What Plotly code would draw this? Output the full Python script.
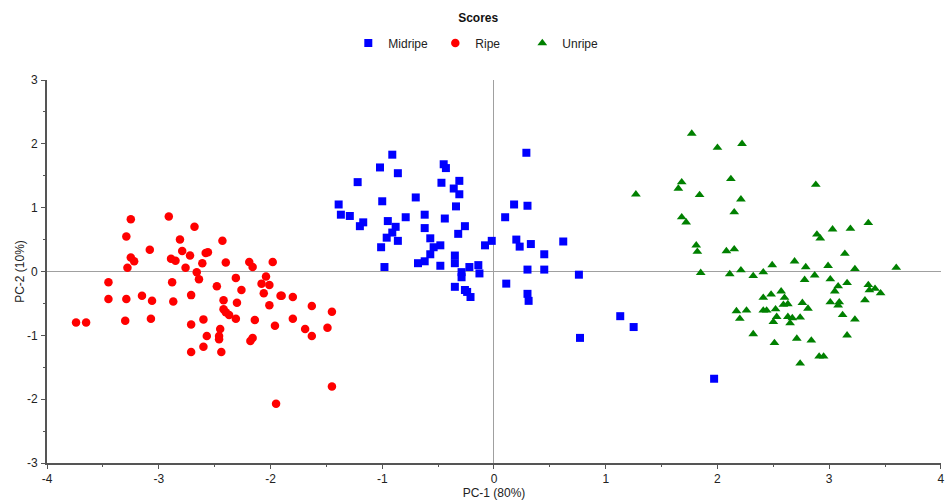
import plotly.graph_objects as go

# Ripe (red circles)
ripe_x = [-3.74, -3.65, -3.45, -3.45, -3.29, -3.25, -3.28, -3.25, -3.22, -3.29, -3.30, -3.15, -3.08, -3.06, -3.07,
          -2.91, -2.89, -2.85, -2.88, -2.87, -2.81, -2.79, -2.72, -2.68, -2.76, -2.66, -2.64, -2.71, -2.71, -2.71,
          -2.61, -2.58, -2.56, -2.60, -2.60, -2.57, -2.43, -2.40, -2.48, -2.42, -2.42, -2.40, -2.37, -2.45, -2.46,
          -2.46, -2.44, -2.31, -2.26, -2.30, -2.31, -2.19, -2.16, -2.16, -2.18, -2.14, -2.04, -2.08, -2.01, -2.06,
          -2.01, -1.98, -1.96, -1.95, -1.91, -1.90, -1.80, -1.80, -1.69, -1.63, -1.63, -1.49, -1.45, -1.45]
ripe_y = [-0.80, -0.80, -0.17, -0.43, 0.55, 0.82, 0.06, 0.22, 0.16, -0.43, -0.77, -0.38, 0.34, -0.46, -0.74,
          0.86, 0.20, 0.17, -0.17, -0.47, 0.50, 0.32, 0.25, 0.70, 0.06, -0.01, -0.12, -0.37, -0.83, -1.26,
          0.13, 0.29, 0.30, -0.75, -1.18, -1.01, 0.48, 0.14, -0.23, -0.45, -0.59, -0.64, -0.68, -0.90, -1.01,
          -1.06, -1.26, -0.10, -0.29, -0.49, -0.74, 0.15, 0.07, -1.04, -1.09, -0.76, -0.08, -0.19, -0.21, -0.34,
          -0.53, 0.15, -0.85, -2.07, -0.38, -0.38, -0.40, -0.74, -0.90, -0.54, -1.01, -0.88, -0.63, -1.80]

# Midripe (blue squares)
mid_x = [-0.91, -1.02, -0.86, -1.22, -0.45, -0.43, -0.47, -0.31, -0.36, -0.31, 0.29, -1.39, -1.37, -1.29, -1.00,
         -0.70, -0.34, 0.18, 0.30, 0.10, -1.17, -1.20, -0.95, -0.88, -0.91, -0.96, -0.86, -1.01, -0.79, -0.62,
         -0.62, -0.57, -0.54, -0.48, -0.57, -0.62, -0.68, -0.98, -0.44, -0.26, -0.32, -0.35, -0.35, -0.48, -0.02,
         -0.08, 0.20, 0.23, 0.33, 0.62, 0.45, -0.22, -0.14, -0.13, 0.30, 0.45, 0.76, -0.29, -0.29, 0.11,
         -0.35, -0.26, -0.24, -0.21, 0.30, 0.31, 1.13, 1.25, 0.77, 1.97]
mid_y = [1.83, 1.63, 1.54, 1.40, 1.68, 1.62, 1.39, 1.42, 1.30, 1.21, 1.86, 1.05, 0.89, 0.87, 1.10,
         1.16, 1.02, 1.05, 1.03, 0.85, 0.77, 0.71, 0.79, 0.70, 0.61, 0.53, 0.48, 0.38, 0.85, 0.89,
         0.68, 0.52, 0.38, 0.41, 0.27, 0.16, 0.13, 0.07, 0.83, 0.71, 0.59, 0.25, 0.13, 0.09, 0.48,
         0.41, 0.50, 0.39, 0.43, 0.47, 0.27, 0.07, 0.10, -0.03, 0.03, 0.03, -0.05, -0.01, -0.09, -0.19,
         -0.24, -0.29, -0.32, -0.40, -0.35, -0.46, -0.70, -0.87, -1.04, -1.68]

# Unripe (green triangles)
un_x = [1.77, 2.00, 2.22, 1.27, 1.68, 1.65, 1.84, 2.12, 2.21, 2.15, 2.88, 1.68, 1.72, 1.81, 1.82,
        2.08, 2.15, 2.89, 2.92, 3.03, 3.19, 3.35, 3.14, 1.85, 2.11, 2.21, 2.32, 2.41, 2.49, 2.69,
        2.79, 2.99, 3.23, 3.60, 2.78, 2.87, 3.01, 3.08, 3.16, 3.05, 3.35, 3.36, 3.41, 3.46, 3.32,
        2.41, 2.48, 2.57, 2.60, 2.59, 2.63, 2.76, 2.81, 3.01, 3.09, 3.08, 2.17, 2.26, 2.20, 2.41,
        2.44, 2.52, 2.53, 2.50, 2.63, 2.67, 2.65, 2.74, 3.12, 3.23, 2.32, 2.51, 2.71, 2.84, 3.16,
        2.91, 2.95, 2.74]
un_y = [2.16, 1.94, 2.00, 1.21, 1.40, 1.30, 1.20, 1.45, 1.13, 0.93, 1.36, 0.85, 0.77, 0.41, 0.31,
        0.32, 0.35, 0.58, 0.52, 0.66, 0.67, 0.76, 0.28, -0.02, -0.04, 0.02, -0.07, -0.01, 0.10, 0.16,
        0.07, 0.09, 0.04, 0.06, -0.13, -0.06, -0.12, -0.23, -0.18, -0.31, -0.21, -0.29, -0.27, -0.34, -0.45,
        -0.41, -0.36, -0.31, -0.41, -0.52, -0.51, -0.49, -0.58, -0.48, -0.48, -0.53, -0.62, -0.61, -0.74, -0.61,
        -0.61, -0.59, -0.71, -0.79, -0.71, -0.73, -0.81, -0.72, -0.68, -0.75, -0.98, -1.12, -1.05, -1.08, -1.00,
        -1.33, -1.33, -1.44]

# axis tick values
x_ticks = [-4, -3, -2, -1, 0, 1, 2, 3, 4]
y_ticks = [-3, -2, -1, 0, 1, 2, 3]

FONT = "Liberation Sans, Arial, sans-serif"

fig = go.Figure()
fig.add_trace(go.Scatter(x=mid_x, y=mid_y, mode="markers", name="Midripe",
                         marker=dict(symbol="square", size=8, color="#0000FF")))
fig.add_trace(go.Scatter(x=ripe_x, y=ripe_y, mode="markers", name="Ripe",
                         marker=dict(symbol="circle", size=8.5, color="#FF0000")))
fig.add_trace(go.Scatter(x=un_x, y=un_y, mode="markers", name="Unripe",
                         marker=dict(symbol="triangle-up", size=8.5, color="#008000")))

axis_common = dict(
    showgrid=False, zeroline=True, zerolinecolor="#A0A0A0", zerolinewidth=1,
    showline=True, linecolor="#555555", linewidth=2, automargin=False,
    ticks="outside", ticklen=4, tickcolor="#555555", tickwidth=1,
    ticklabeloverflow="allow", tickmode="array",
    tickfont=dict(family=FONT, size=12, color="#222222"),
    minor=dict(dtick=0.5, tick0=0, ticks="outside", ticklen=2, tickcolor="#555555"),
)

fig.update_layout(
    width=945, height=501,
    paper_bgcolor="white", plot_bgcolor="white",
    margin=dict(l=47, r=4, t=80, b=38, autoexpand=False),
    font=dict(family=FONT, size=12, color="#222222"),
    title=dict(text="<b>Scores</b>", x=0.506, xanchor="center", yref="container", y=0.964, yanchor="middle",
               font=dict(family=FONT, size=12, color="#111111")),
    legend=dict(orientation="h", x=0.483, xanchor="center", yref="container", y=0.914, yanchor="middle",
                font=dict(family=FONT, size=12, color="#222222"),
                entrywidth=42, entrywidthmode="pixels"),
    xaxis=dict(range=[-4, 4.0005], tickvals=x_ticks, ticktext=[str(v) for v in x_ticks],
               title=dict(text="PC-1 (80%)", standoff=2, font=dict(family=FONT, size=12)), **axis_common),
    yaxis=dict(range=[-3, 3], tickvals=y_ticks, ticktext=[str(v) for v in y_ticks], ticklabelstandoff=1,
               title=dict(text="PC-2 (10%)", standoff=0, font=dict(family=FONT, size=12)), **axis_common),
)

# remove the default page margin so the 945x501 figure fills the window exactly
fig.write_html("out.html", config={"displayModeBar": False},
               post_script="document.body.style.margin='0px';document.documentElement.style.overflow='hidden';")
